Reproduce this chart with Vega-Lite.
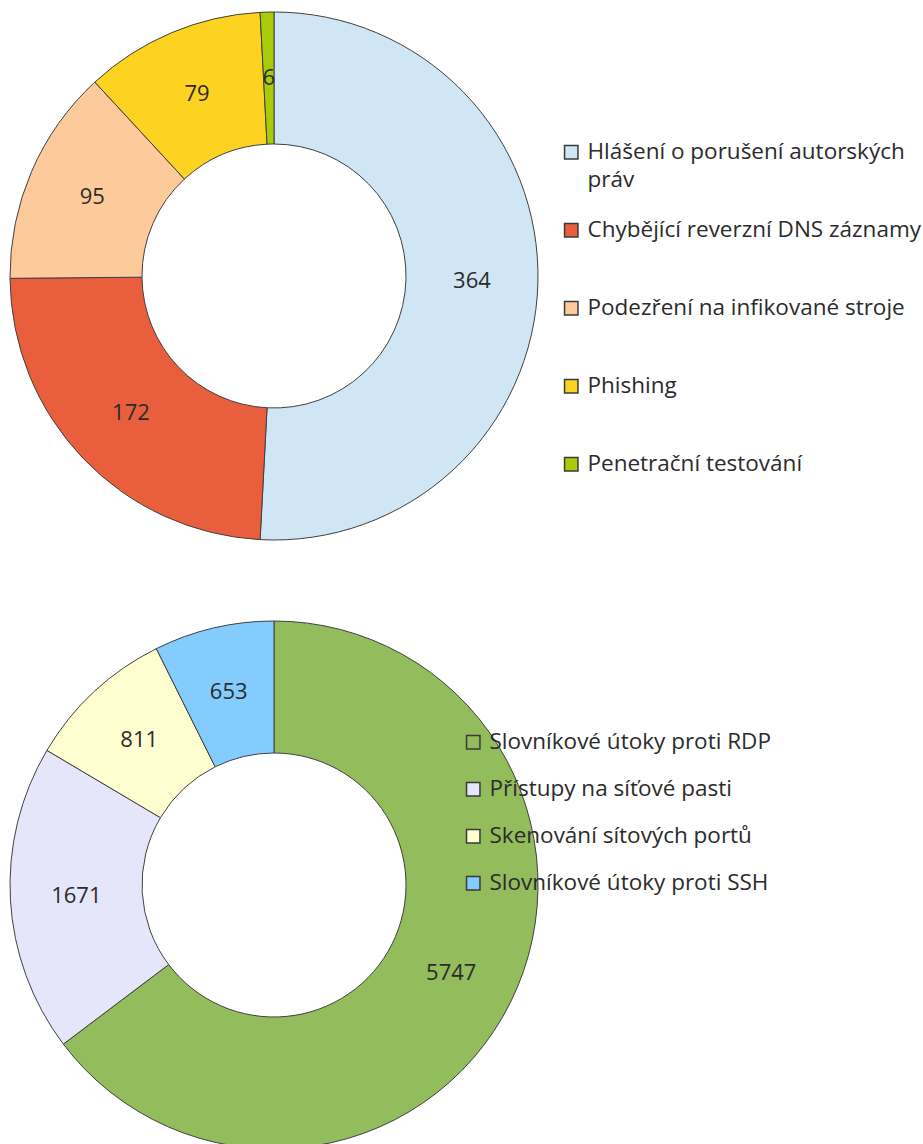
{
  "$schema": "https://vega.github.io/schema/vega-lite/v6.json",
  "padding": 0,
  "autosize": {"type": "pad"},
  "background": "white",
  "spacing": 57,
  "config": {
    "view": {"stroke": null},
    "font": "Open Sans",
    "style": {"guide-label": {"lineHeight": 28}},
    "legend": {
      "orient": "none",
      "title": null,
      "padding": 0,
      "symbolType": "square",
      "symbolSize": 180,
      "symbolStrokeColor": "#3a3a3a",
      "symbolStrokeWidth": 1.5,
      "labelFont": "Open Sans",
      "labelFontSize": 22.5,
      "labelColor": "#2b2b2b",
      "labelLimit": 0,
      "labelOffset": 5
    }
  },
  "vconcat": [
    {
      "width": 548,
      "height": 552,
      "data": {
        "values": [
          {"kategorie": "Hlášení o porušení autorských práv", "pocet": 364, "poradi": 1},
          {"kategorie": "Chybějící reverzní DNS záznamy", "pocet": 172, "poradi": 2},
          {"kategorie": "Podezření na infikované stroje", "pocet": 95, "poradi": 3},
          {"kategorie": "Phishing", "pocet": 79, "poradi": 4},
          {"kategorie": "Penetrační testování", "pocet": 6, "poradi": 5}
        ]
      },
      "encoding": {
        "theta": {"field": "pocet", "type": "quantitative", "stack": true},
        "order": {"field": "poradi", "type": "quantitative"}
      },
      "layer": [
        {
          "mark": {"type": "arc", "outerRadius": 264, "innerRadius": 132, "stroke": "#404040", "strokeWidth": 1},
          "encoding": {
            "color": {
              "field": "kategorie",
              "type": "nominal",
              "scale": {
                "domain": ["Hlášení o porušení autorských práv", "Chybějící reverzní DNS záznamy", "Podezření na infikované stroje", "Phishing", "Penetrační testování"],
                "range": ["#D0E6F4", "#E95F3D", "#FDCB9B", "#FDD321", "#A9CC0A"]
              },
              "legend": {
                "legendX": 560,
                "legendY": 141,
                "gridAlign": "all",
                "rowPadding": 27,
                "labelExpr": "datum.label == 'Hlášení o porušení autorských práv' ? ['Hlášení o porušení autorských', 'práv'] : datum.label"
              }
            }
          }
        },
        {
          "mark": {"type": "text", "radius": 198, "fontSize": 22, "fill": "#2b2b2b"},
          "encoding": {"text": {"field": "pocet", "type": "quantitative"}}
        }
      ]
    },
    {
      "width": 548,
      "height": 552,
      "data": {
        "values": [
          {"kategorie": "Slovníkové útoky proti RDP", "pocet": 5747, "poradi": 1},
          {"kategorie": "Přístupy na síťové pasti", "pocet": 1671, "poradi": 2},
          {"kategorie": "Skenování sítových portů", "pocet": 811, "poradi": 3},
          {"kategorie": "Slovníkové útoky proti SSH", "pocet": 653, "poradi": 4}
        ]
      },
      "encoding": {
        "theta": {"field": "pocet", "type": "quantitative", "stack": true},
        "order": {"field": "poradi", "type": "quantitative"}
      },
      "layer": [
        {
          "mark": {"type": "arc", "outerRadius": 264, "innerRadius": 132, "stroke": "#404040", "strokeWidth": 1},
          "encoding": {
            "color": {
              "field": "kategorie",
              "type": "nominal",
              "scale": {
                "domain": ["Slovníkové útoky proti RDP", "Přístupy na síťové pasti", "Skenování sítových portů", "Slovníkové útoky proti SSH"],
                "range": ["#93BC5C", "#E6E6FB", "#FFFED0", "#84CBFE"]
              },
              "legend": {
                "legendX": 462,
                "legendY": 122,
                "rowPadding": 24
              }
            }
          }
        },
        {
          "mark": {"type": "text", "radius": 198, "fontSize": 22, "fill": "#2b2b2b"},
          "encoding": {"text": {"field": "pocet", "type": "quantitative"}}
        }
      ]
    }
  ],
  "resolve": {"scale": {"color": "independent"}, "legend": {"color": "independent"}}
}
